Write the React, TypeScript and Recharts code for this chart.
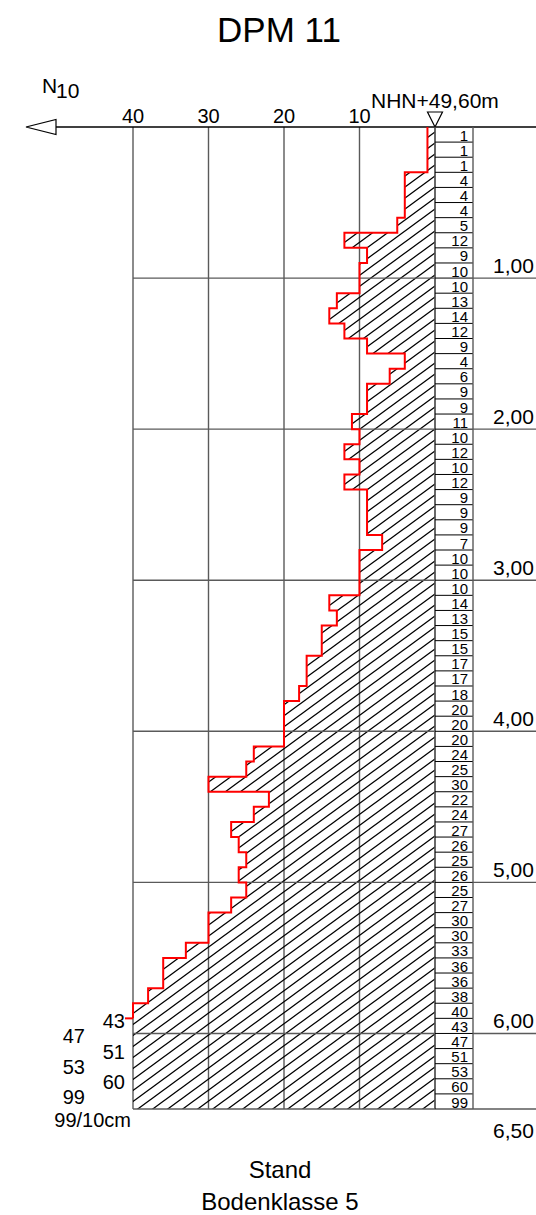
import React from 'react';
import {
  ComposedChart,
  Area,
  Line,
  XAxis,
  YAxis,
  CartesianGrid,
  ReferenceLine,
  Customized,
} from 'recharts';

// ---------- data ----------
const TITLE = 'DPM 11';
const AXIS_NAME = 'N';
const AXIS_SUB = '10';
const ELEVATION_LABEL = 'NHN+49,60m';
const UNIT_LABEL = '99/10cm';
const FOOTER_LINES = ['Stand', 'Bodenklasse 5'];

const STEP_M = 0.1; // one blow count per 10 cm
const N10_VALUES = [
  1, 1, 1, 4, 4, 4, 5, 12, 9, 10,
  10, 13, 14, 12, 9, 4, 6, 9, 9, 11,
  10, 12, 10, 12, 9, 9, 9, 7, 10, 10,
  10, 14, 13, 15, 15, 17, 17, 18, 20, 20,
  20, 24, 25, 30, 22, 24, 27, 26, 25, 26,
  25, 27, 30, 30, 33, 36, 36, 38, 40, 43,
  47, 51, 53, 60, 99,
];
const X_TICKS = [10, 20, 30, 40];
const X_MAX = 40;
const DEPTH_TICKS = [1, 2, 3, 4, 5, 6, 6.5];
const DEPTH_LABELS = ['1,00', '2,00', '3,00', '4,00', '5,00', '6,00', '6,50'];
const MAX_DEPTH = 6.5;

// ---------- derived tables ----------
const rowTop = (i: number) => Math.round(i * STEP_M * 100) / 100;
const hatchData = N10_VALUES.map((v, i) => ({ d: rowTop(i), v: Math.min(v, X_MAX) })).concat([
  { d: rowTop(N10_VALUES.length), v: Math.min(N10_VALUES[N10_VALUES.length - 1], X_MAX) },
]);
const cutIndex = N10_VALUES.findIndex((v) => v > X_MAX);
const redData = N10_VALUES.slice(0, cutIndex)
  .map((v, i) => ({ d: rowTop(i), v }))
  .concat([{ d: rowTop(cutIndex), v: N10_VALUES[cutIndex - 1] }]);
const rowBottomTicks = N10_VALUES.map((_, i) => rowTop(i + 1));
const overflowRows = N10_VALUES.map((v, i) => (v > X_MAX ? i : -1)).filter((i) => i >= 0);
const leftTicks = overflowRows.map(rowTop).concat([MAX_DEPTH]);

// ---------- layout ----------
const W = 536;
const H = 1215;
const PLOT_TOP = 127;
const LEFT_W = 133;
const ROWS_W = 38;
const DEPTH_W = 63;
const BOTTOM = 106;
const XAXIS_H = 30;
const PLOT_H = H - PLOT_TOP - BOTTOM;
const ROW_PX = PLOT_H / N10_VALUES.length;
const FONT = "'Liberation Sans', Arial, Helvetica, sans-serif";
const GRID = '#5a5a5a';

const XTick = (props: any) => {
  const { x, y, payload } = props;
  return (
    <text x={x} y={y - 4} textAnchor="middle" fontSize={20} fontFamily={FONT} fill="#000">
      {payload.value}
    </text>
  );
};

const RowTick = (props: any) => {
  const { x, y, payload } = props;
  const i = Math.round(payload.value / STEP_M) - 1;
  const value = N10_VALUES[i];
  return (
    <g>
      <line x1={x} x2={x + ROWS_W} y1={y} y2={y} stroke="#000" strokeWidth={1} />
      <line x1={x + ROWS_W} x2={x + ROWS_W} y1={y - ROW_PX} y2={y} stroke={GRID} strokeWidth={1.4} />
      <text x={x + ROWS_W - 5} y={y - 1.5} textAnchor="end" fontSize={15} fontFamily={FONT} fill="#000">
        {value}
      </text>
    </g>
  );
};

const DepthTick = (props: any) => {
  const { x, y, payload } = props;
  const idx = DEPTH_TICKS.indexOf(payload.value);
  const isLast = payload.value === MAX_DEPTH;
  return (
    <g>
      <line x1={x} x2={x + DEPTH_W} y1={y} y2={y} stroke={GRID} strokeWidth={1.4} />
      <text x={x + 20} y={isLast ? y + 29 : y - 5} fontSize={21} fontFamily={FONT} fill="#000">
        {DEPTH_LABELS[idx]}
      </text>
    </g>
  );
};

const LeftTick = (props: any) => {
  const { x, y, payload } = props;
  if (payload.value === MAX_DEPTH) {
    return (
      <text x={x - 2} y={y + 18} textAnchor="end" fontSize={20} fontFamily={FONT} fill="#000">
        {UNIT_LABEL}
      </text>
    );
  }
  const i = Math.round(payload.value / STEP_M);
  const k = overflowRows.indexOf(i);
  const tx = k % 2 === 0 ? x - 8 : x - 48;
  return (
    <g>
      {k === 0 && <line x1={x - 8} x2={x} y1={y} y2={y} stroke="#ff0000" strokeWidth={2} />}
      <text x={tx} y={y + 10} textAnchor="end" fontSize={20} fontFamily={FONT} fill="#000">
        {N10_VALUES[i]}
      </text>
    </g>
  );
};

const Overlay = () => (
  <g fontFamily={FONT} fill="#000">
    <text x={279} y={42} textAnchor="middle" fontSize={35}>
      {TITLE}
    </text>
    <text x={42} y={92.5} fontSize={21}>
      {AXIS_NAME}
    </text>
    <text x={56} y={97.5} fontSize={21}>
      {AXIS_SUB}
    </text>
    <text x={371} y={108} fontSize={21}>
      {ELEVATION_LABEL}
    </text>
    <line x1={56} x2={W} y1={PLOT_TOP} y2={PLOT_TOP} stroke="#000" strokeWidth={1.5} />
    <polygon points={`26,${PLOT_TOP} 56,${PLOT_TOP - 7.5} 56,${PLOT_TOP + 7.5}`} fill="#fff" stroke="#000" strokeWidth={1.2} />
    <polygon points={`427.5,112 442.5,112 435,${PLOT_TOP}`} fill="#fff" stroke="#000" strokeWidth={1.2} />
    <text x={280} y={1178} textAnchor="middle" fontSize={24}>
      {FOOTER_LINES[0]}
    </text>
    <text x={280} y={1210} textAnchor="middle" fontSize={24}>
      {FOOTER_LINES[1]}
    </text>
  </g>
);

export default function App() {
  return (
    <div style={{ position: 'absolute', left: 0, top: 0, width: W, height: H, background: '#fff', fontFamily: FONT }}>
      <ComposedChart
        width={W}
        height={H}
        layout="vertical"
        margin={{ top: PLOT_TOP - XAXIS_H, right: 0, bottom: BOTTOM, left: 0 }}
      >
        <defs>
          <pattern id="hatch" patternUnits="userSpaceOnUse" width={15} height={11}>
            <path
              d="M-1,0.733 L1,-0.733 M0,11 L15,0 M14,11.733 L16,10.267"
              stroke="#000"
              strokeWidth={1.3}
              fill="none"
            />
          </pattern>
        </defs>
        <XAxis
          type="number"
          orientation="top"
          height={XAXIS_H}
          domain={[0, X_MAX]}
          reversed
          ticks={X_TICKS}
          interval={0}
          tick={<XTick />}
          tickLine={false}
          axisLine={false}
          tickSize={0}
          tickMargin={0}
        />
        <YAxis
          type="number"
          dataKey="d"
          orientation="left"
          width={LEFT_W}
          domain={[0, MAX_DEPTH]}
          ticks={leftTicks}
          interval={0}
          tick={<LeftTick />}
          tickLine={false}
          axisLine={false}
          tickSize={0}
          tickMargin={0}
        />
        <YAxis
          yAxisId="r2"
          type="number"
          dataKey="d"
          orientation="right"
          width={DEPTH_W}
          domain={[0, MAX_DEPTH]}
          ticks={DEPTH_TICKS}
          interval={0}
          tick={<DepthTick />}
          tickLine={false}
          axisLine={false}
          tickSize={0}
          tickMargin={0}
        />
        <YAxis
          yAxisId="r1"
          type="number"
          dataKey="d"
          orientation="right"
          width={ROWS_W}
          domain={[0, MAX_DEPTH]}
          ticks={rowBottomTicks}
          interval={0}
          tick={<RowTick />}
          tickLine={false}
          axisLine={{ stroke: GRID, strokeWidth: 1.4 }}
          tickSize={0}
          tickMargin={0}
        />
        <CartesianGrid horizontal={false} stroke={GRID} strokeWidth={1.4} strokeOpacity={1} />
        {DEPTH_TICKS.map((d) => (
          <ReferenceLine key={d} y={d} stroke={GRID} strokeWidth={1.4} />
        ))}
        <Area
          data={hatchData}
          dataKey="v"
          type="stepBefore"
          stroke="none"
          fill="url(#hatch)"
          fillOpacity={1}
          isAnimationActive={false}
          dot={false}
          activeDot={false}
        />
        <Line
          yAxisId="r1"
          data={hatchData}
          dataKey="v"
          stroke="none"
          strokeWidth={0}
          dot={false}
          activeDot={false}
          isAnimationActive={false}
        />
        <Line
          yAxisId="r2"
          data={hatchData}
          dataKey="v"
          stroke="none"
          strokeWidth={0}
          dot={false}
          activeDot={false}
          isAnimationActive={false}
        />
        <Line
          data={redData}
          dataKey="v"
          type="stepBefore"
          stroke="#ff0000"
          strokeWidth={2}
          dot={false}
          activeDot={false}
          isAnimationActive={false}
        />
        <Customized component={Overlay} />
      </ComposedChart>
    </div>
  );
}
